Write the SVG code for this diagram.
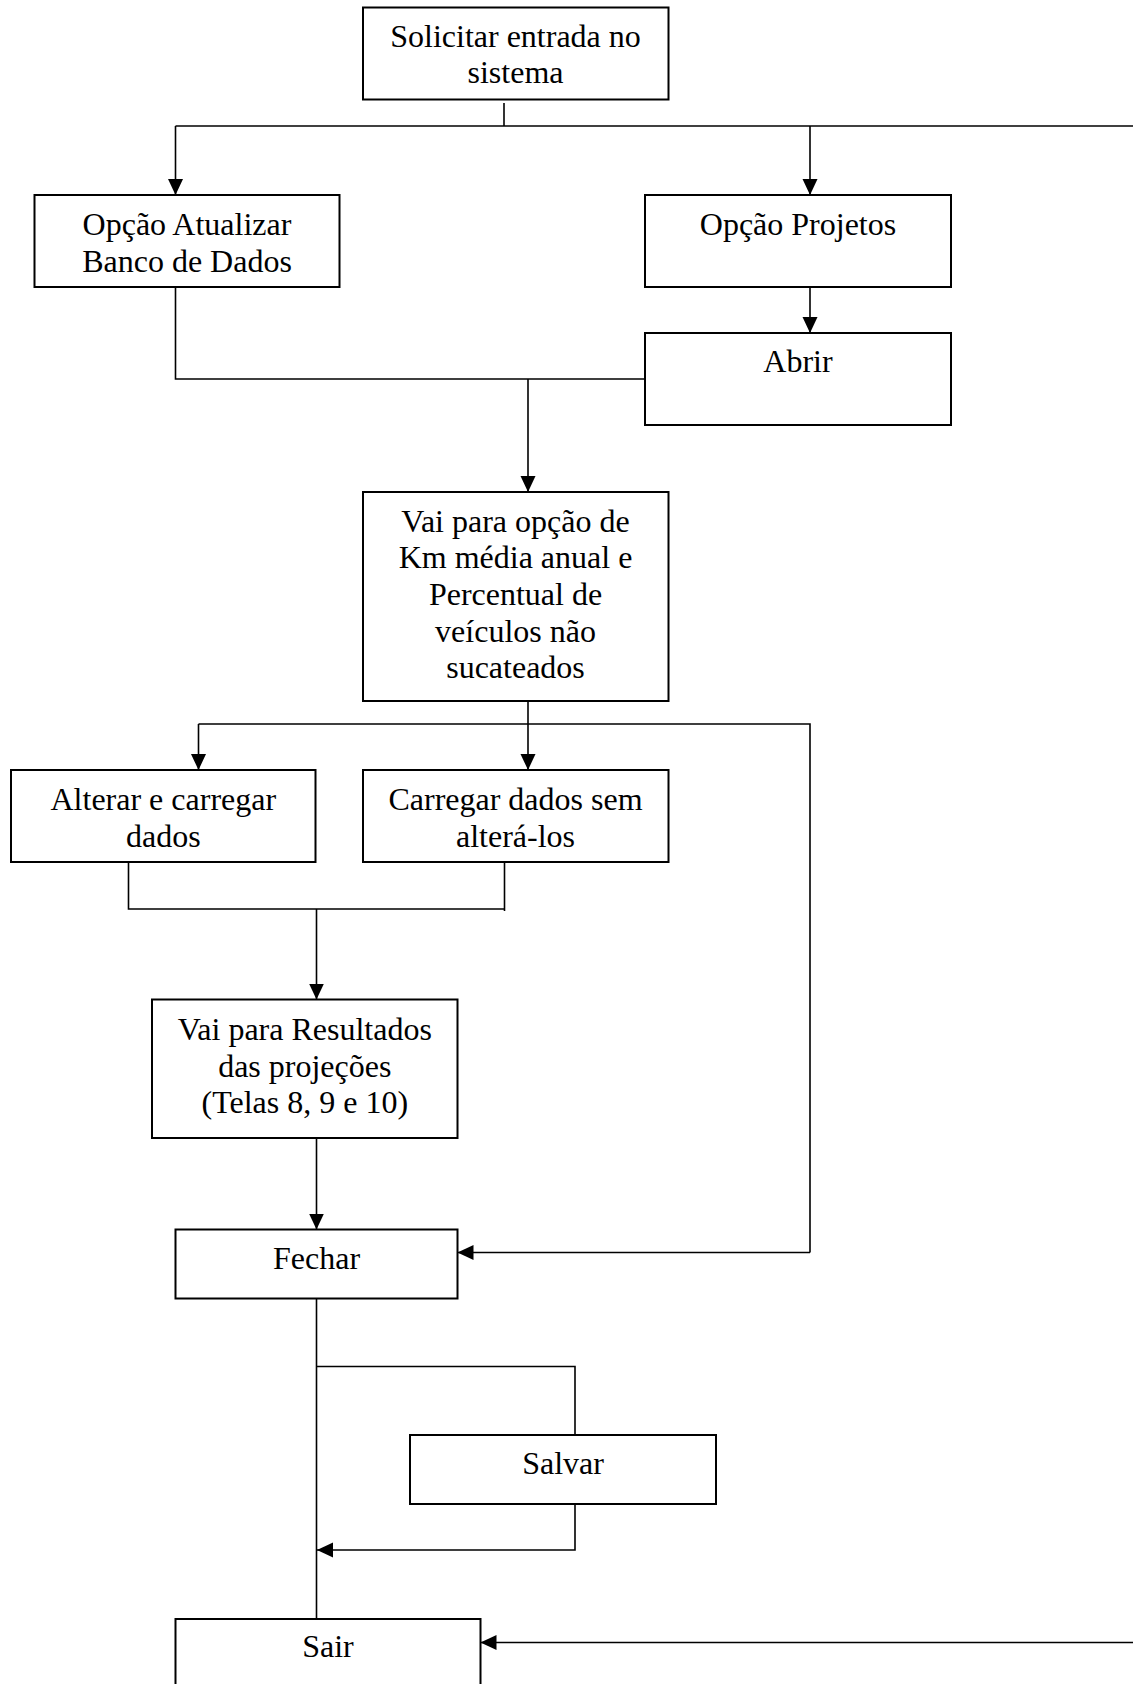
<svg xmlns="http://www.w3.org/2000/svg" width="1133" height="1684" viewBox="0 0 1133 1684">
  <style>
    .box { fill: #ffffff; stroke: #000000; stroke-width: 2; }
    .lbl { font-family: "Liberation Serif", "Times New Roman", serif; font-size: 32px; fill: #000000; text-anchor: middle; }
    .wire { fill: none; stroke: #000000; stroke-width: 1.6; }
    .arr { marker-end: url(#head); }
  </style>
  <defs>
    <marker id="head" markerUnits="userSpaceOnUse" markerWidth="18" markerHeight="18" refX="16" refY="7.5" orient="auto">
      <path d="M0,0 L16,7.5 L0,15 z" fill="#000000"/>
    </marker>
  </defs>
  <rect x="0" y="0" width="1133" height="1684" fill="#ffffff"/>

  <!-- connectors -->
  <g id="connectors">
    <!-- start: split to both options and the far-right exit -->
    <path class="wire" d="M504,103 V126"/>
    <path class="wire" d="M175.5,126 H1140" stroke-width="2"/>
    <path class="wire arr" d="M175.5,126 V195"/>
    <path class="wire arr" d="M810,126 V195"/>
    <!-- Projetos to Abrir -->
    <path class="wire arr" d="M810,287 V333"/>
    <!-- merge into Km / Percentual -->
    <path class="wire" d="M175.5,287 V379 H645"/>
    <path class="wire arr" d="M528,379 V492"/>
    <!-- split after Km / Percentual -->
    <path class="wire" d="M528,701 V724"/>
    <path class="wire" d="M198.5,724 H810 V1252.5"/>
    <path class="wire arr" d="M198.5,724 V770"/>
    <path class="wire arr" d="M528,724 V770"/>
    <path class="wire arr" d="M810,1252.5 H457.5"/>
    <!-- merge into Resultados -->
    <path class="wire" d="M128.5,862 V909 H504.5"/>
    <path class="wire" d="M504.5,862 V911"/>
    <path class="wire arr" d="M316.5,909 V999.5"/>
    <!-- Resultados to Fechar -->
    <path class="wire arr" d="M316.5,1138 V1229.5"/>
    <!-- Fechar to Sair, with optional Salvar -->
    <path class="wire" d="M316.5,1299 V1619"/>
    <path class="wire" d="M316.5,1366.5 H575 V1435"/>
    <path class="wire arr" d="M575,1504 V1550 H317"/>
    <!-- far-right return into Sair -->
    <path class="wire arr" d="M1140,1642.5 H480.5" stroke-width="2"/>
  </g>

  <g id="node-solicitar">
    <rect class="box" x="363" y="7.5" width="305.5" height="92"/>
    <text class="lbl" x="515.5" y="46.5">Solicitar entrada no</text>
    <text class="lbl" x="515.5" y="83">sistema</text>
  </g>

  <g id="node-atualizar">
    <rect class="box" x="34.5" y="195" width="305" height="92"/>
    <text class="lbl" x="187" y="235">Opção Atualizar</text>
    <text class="lbl" x="187" y="271.5">Banco de Dados</text>
  </g>

  <g id="node-projetos">
    <rect class="box" x="645" y="195" width="306" height="92"/>
    <text class="lbl" x="798" y="235">Opção Projetos</text>
  </g>

  <g id="node-abrir">
    <rect class="box" x="645" y="333" width="306" height="92"/>
    <text class="lbl" x="798" y="371.5">Abrir</text>
  </g>

  <g id="node-km">
    <rect class="box" x="363" y="492" width="305.5" height="209"/>
    <text class="lbl" x="515.5" y="531.5">Vai para opção de</text>
    <text class="lbl" x="515.5" y="568">Km média anual e</text>
    <text class="lbl" x="515.5" y="605">Percentual de</text>
    <text class="lbl" x="515.5" y="641.5">veículos não</text>
    <text class="lbl" x="515.5" y="678">sucateados</text>
  </g>

  <g id="node-alterar">
    <rect class="box" x="11" y="770" width="304.5" height="92"/>
    <text class="lbl" x="163.3" y="810">Alterar e carregar</text>
    <text class="lbl" x="163.3" y="846.5">dados</text>
  </g>

  <g id="node-carregar">
    <rect class="box" x="363" y="770" width="305.5" height="92"/>
    <text class="lbl" x="515.5" y="810">Carregar dados sem</text>
    <text class="lbl" x="515.5" y="846.5">alterá-los</text>
  </g>

  <g id="node-resultados">
    <rect class="box" x="152" y="999.5" width="305.5" height="138.5"/>
    <text class="lbl" x="304.8" y="1040">Vai para Resultados</text>
    <text class="lbl" x="304.8" y="1076.5">das projeções</text>
    <text class="lbl" x="304.8" y="1113">(Telas 8, 9 e 10)</text>
  </g>

  <g id="node-fechar">
    <rect class="box" x="175.5" y="1229.5" width="282" height="69"/>
    <text class="lbl" x="316.5" y="1269">Fechar</text>
  </g>

  <g id="node-salvar">
    <rect class="box" x="410" y="1435" width="306" height="69"/>
    <text class="lbl" x="563" y="1474">Salvar</text>
  </g>

  <g id="node-sair">
    <rect class="box" x="175.5" y="1619" width="305" height="100"/>
    <text class="lbl" x="328" y="1657">Sair</text>
  </g>
</svg>
